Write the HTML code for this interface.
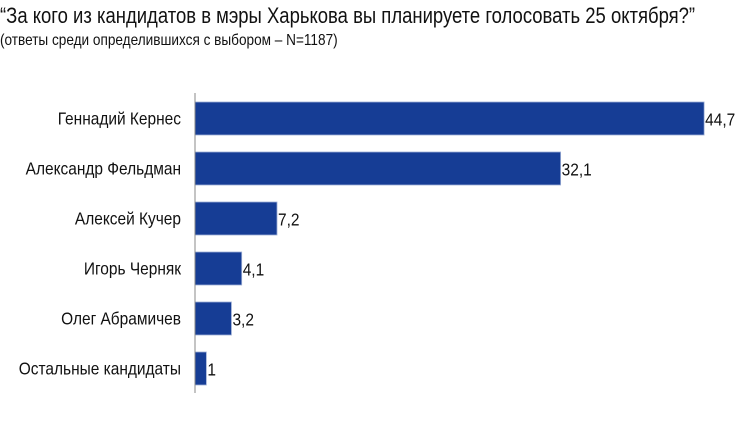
<!DOCTYPE html>
<html><head><meta charset="utf-8"><style>
body{margin:0;width:750px;height:430px;background:#fff;overflow:hidden;font-family:"Liberation Sans",sans-serif;color:#111;position:relative}
.w{position:absolute;left:0;width:750px;overflow:hidden;height:30px}
.t{white-space:nowrap;transform-origin:0 0;display:inline-block}
</style></head><body>
<div class="w" style="top:3px"><div class="t" style="font-size:22px;transform:scaleX(0.84)">“За кого из кандидатов в мэры Харькова вы планируете голосовать 25 октября?”</div></div>
<div class="w" style="top:32px"><div class="t" style="font-size:16px;transform:scaleX(0.85)">(ответы среди определившихся с выбором – N=1187)</div></div>
<svg id="c" width="750" height="430" style="position:absolute;left:0;top:0"></svg>
<script>
const categories=["Геннадий Кернес","Александр Фельдман","Алексей Кучер","Игорь Черняк","Олег Абрамичев","Остальные кандидаты"];
const values=[44.7,32.1,7.2,4.1,3.2,1];
const valueLabels=["44,7","32,1","7,2","4,1","3,2","1"];
const svg=document.getElementById('c');const NS='http://www.w3.org/2000/svg';
const x0=195,scale=11.39,y0=102,step=50,bh=33;
const xs=v=>x0+v*scale, ys=i=>y0+i*step;
function mk(t,a){const e=document.createElementNS(NS,t);for(const k in a)e.setAttribute(k,a[k]);svg.appendChild(e);return e;}
categories.forEach((c,i)=>{
 const r=mk('rect',{x:x0,y:ys(i),width:xs(values[i])-x0,height:bh,fill:'#163d95',stroke:'#9fb0d6','stroke-width':0.8});
 
 
 const l=mk('text',{x:0,y:0,transform:'translate(181,'+(ys(i)+bh/2+6)+') scale(0.86,1)','text-anchor':'end','font-size':18,fill:'#111','font-family':'Liberation Sans, sans-serif'});
 l.textContent=c;
 
 
 const v=mk('text',{x:0,y:0,transform:'translate('+(xs(values[i])+1)+','+(ys(i)+bh/2+7)+') scale(0.86,1)','font-size':18,fill:'#111','font-family':'Liberation Sans, sans-serif'});
 v.textContent=valueLabels[i];
 
 
});
const ax=mk('line',{x1:x0,x2:x0,y1:93,y2:393,stroke:'#888','stroke-width':1});


</script>
</body></html>
